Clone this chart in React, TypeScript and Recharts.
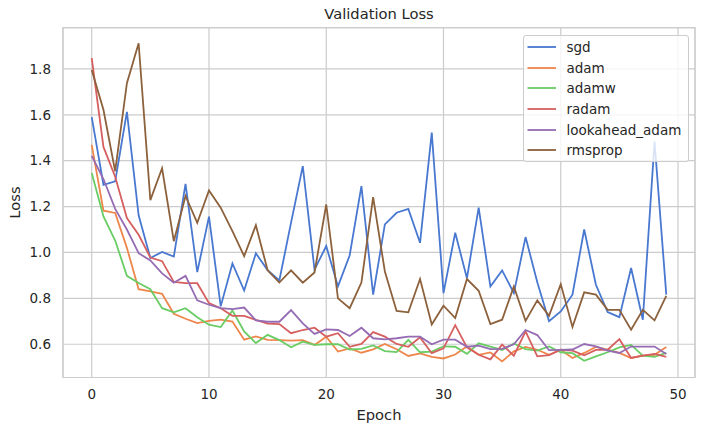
import React from 'react';
import { LineChart, Line, XAxis, YAxis, CartesianGrid, Legend, ReferenceArea, Label } from 'recharts';

const epochs = Array.from({ length: 50 }, (_, i) => i);

const sgd = [1.59, 1.295, 1.31, 1.613, 1.162, 0.976, 1.002, 0.982, 1.299, 0.914, 1.156, 0.765, 0.952, 0.834, 0.996, 0.923, 0.878, 1.13, 1.376, 0.925, 1.028, 0.852, 0.988, 1.289, 0.816, 1.122, 1.173, 1.19, 1.042, 1.522, 0.823, 1.086, 0.888, 1.195, 0.852, 0.922, 0.823, 1.067, 0.87, 0.7, 0.743, 0.816, 1.1, 0.859, 0.74, 0.718, 0.932, 0.707, 1.483, 0.816];
const adam = [1.469, 1.182, 1.172, 1.02, 0.84, 0.83, 0.82, 0.733, 0.711, 0.692, 0.702, 0.707, 0.699, 0.62, 0.634, 0.619, 0.618, 0.616, 0.618, 0.597, 0.633, 0.568, 0.582, 0.563, 0.578, 0.601, 0.578, 0.549, 0.56, 0.545, 0.538, 0.555, 0.591, 0.554, 0.564, 0.525, 0.569, 0.588, 0.576, 0.554, 0.576, 0.54, 0.562, 0.588, 0.576, 0.562, 0.54, 0.55, 0.554, 0.588];
const adamw = [1.346, 1.157, 1.052, 0.898, 0.867, 0.84, 0.757, 0.739, 0.757, 0.718, 0.685, 0.675, 0.747, 0.656, 0.605, 0.641, 0.618, 0.587, 0.611, 0.597, 0.6, 0.6, 0.577, 0.58, 0.595, 0.57, 0.566, 0.619, 0.565, 0.568, 0.591, 0.589, 0.558, 0.604, 0.59, 0.575, 0.603, 0.579, 0.572, 0.59, 0.565, 0.561, 0.528, 0.547, 0.565, 0.586, 0.597, 0.55, 0.545, 0.562];
const radam = [1.847, 1.46, 1.33, 1.15, 1.077, 0.978, 0.962, 0.872, 0.866, 0.866, 0.779, 0.757, 0.724, 0.724, 0.706, 0.69, 0.688, 0.648, 0.662, 0.672, 0.633, 0.648, 0.589, 0.601, 0.653, 0.633, 0.601, 0.589, 0.63, 0.561, 0.582, 0.683, 0.586, 0.554, 0.534, 0.598, 0.55, 0.656, 0.547, 0.552, 0.576, 0.572, 0.552, 0.575, 0.576, 0.622, 0.54, 0.55, 0.558, 0.545];
const lookahead = [1.421, 1.32, 1.19, 1.1, 0.997, 0.965, 0.909, 0.868, 0.898, 0.791, 0.772, 0.757, 0.753, 0.76, 0.704, 0.698, 0.698, 0.749, 0.691, 0.645, 0.665, 0.662, 0.636, 0.672, 0.626, 0.621, 0.626, 0.633, 0.633, 0.6, 0.62, 0.62, 0.589, 0.594, 0.579, 0.58, 0.6, 0.662, 0.64, 0.574, 0.575, 0.577, 0.601, 0.591, 0.572, 0.562, 0.59, 0.59, 0.59, 0.557];
const rmsprop = [1.795, 1.622, 1.354, 1.738, 1.912, 1.228, 1.367, 1.049, 1.246, 1.129, 1.27, 1.195, 1.093, 0.984, 1.119, 0.922, 0.869, 0.922, 0.868, 0.913, 1.209, 0.8, 0.757, 0.869, 1.241, 0.917, 0.745, 0.739, 0.884, 0.686, 0.768, 0.714, 0.884, 0.833, 0.688, 0.707, 0.852, 0.702, 0.791, 0.724, 0.862, 0.675, 0.826, 0.816, 0.75, 0.75, 0.663, 0.75, 0.704, 0.811];

const seriesNames = ['sgd', 'adam', 'adamw', 'radam', 'lookahead_adam', 'rmsprop'];
const seriesValues = [sgd, adam, adamw, radam, lookahead, rmsprop];
const seriesColors = ['#4878d0', '#ee854a', '#6acc64', '#d65f5f', '#956cb4', '#8c613c'];

const xTicks = [0, 10, 20, 30, 40, 50];
const yTicks = [0.6, 0.8, 1.0, 1.2, 1.4, 1.6, 1.8];
const xDomain = [-2.45, 51.45];
const yDomain = [0.455, 1.98];

const data = epochs.map((e, i) => {
  const row: Record<string, number> = { epoch: e };
  seriesNames.forEach((n, k) => {
    row[n] = seriesValues[k][i];
  });
  return row;
});

const FONT = '"DejaVu Sans", sans-serif';
const TEXT = '#262626';
const GRID = '#cccccc';

const LegendContent = () => {
  return (
    <div
      style={{
        boxSizing: 'border-box',
        width: 166,
        height: 127,
        border: `1px solid ${GRID}`,
        borderRadius: 3,
        background: 'rgba(255,255,255,0.8)',
        paddingTop: 1,
        fontFamily: FONT,
        fontSize: 13.5,
        color: TEXT,
      }}
    >
      {seriesNames.map((n, k) => (
        <div key={n} style={{ height: 20.7, display: 'flex', alignItems: 'center', whiteSpace: 'nowrap' }}>
          <svg width={43} height={10} style={{ flex: 'none' }}>
            <line x1={3.5} x2={32} y1={5} y2={5} stroke={seriesColors[k]} strokeWidth={1.8} />
          </svg>
          <span style={{ lineHeight: '16px' }}>{n}</span>
        </div>
      ))}
    </div>
  );
};

export default function App() {
  return (
    <div style={{ position: 'absolute', left: 0, top: 0, width: 705, height: 431, background: '#fff' }}>
      <div
        style={{
          position: 'absolute',
          left: 63,
          width: 632,
          top: 5,
          textAlign: 'center',
          fontFamily: FONT,
          fontSize: 14.7,
          color: TEXT,
          lineHeight: 'normal',
        }}
      >
        Validation Loss
      </div>
      <LineChart
        width={705}
        height={431}
        data={data}
        margin={{ top: 27.6, right: 10, bottom: 0, left: 0 }}
      >
        <CartesianGrid stroke={GRID} strokeWidth={1.2} />
        <XAxis
          type="number"
          dataKey="epoch"
          domain={xDomain}
          ticks={xTicks}
          allowDataOverflow
          height={53.5}
          tickSize={0}
          tickMargin={12}
          axisLine={false}
          tickLine={false}
          tick={{ fontFamily: FONT, fontSize: 13.5, fill: TEXT }}
        >
          <Label
            value="Epoch"
            position="insideBottom"
            offset={11.5}
            style={{ fontFamily: FONT, fontSize: 14.7, fill: TEXT }}
          />
        </XAxis>
        <YAxis
          type="number"
          domain={yDomain}
          ticks={yTicks}
          allowDataOverflow
          width={63}
          tickSize={0}
          tickMargin={12}
          axisLine={false}
          tickLine={false}
          tickFormatter={(v: number) => v.toFixed(1)}
          tick={{ fontFamily: FONT, fontSize: 13.5, fill: TEXT }}
        >
          <Label
            value="Loss"
            angle={-90}
            position="insideLeft"
            offset={15}
            style={{ fontFamily: FONT, fontSize: 14.7, fill: TEXT, textAnchor: 'middle' }}
          />
        </YAxis>
        <ReferenceArea
          x1={xDomain[0]}
          x2={xDomain[1]}
          y1={yDomain[0]}
          y2={yDomain[1]}
          fill="none"
          stroke={GRID}
          strokeWidth={1.2}
          ifOverflow="visible"
        />
        {seriesNames.map((n, k) => (
          <Line
            key={n}
            type="linear"
            dataKey={n}
            name={n}
            stroke={seriesColors[k]}
            strokeWidth={1.8}
            dot={false}
            activeDot={false}
            isAnimationActive={false}
          />
        ))}
        <Legend
          layout="vertical"
          align="center"
          verticalAlign="middle"
          content={<LegendContent />}
          wrapperStyle={{ position: 'absolute', left: 522.5, top: 34.5, width: 166, height: 127 }}
        />
      </LineChart>
    </div>
  );
}
